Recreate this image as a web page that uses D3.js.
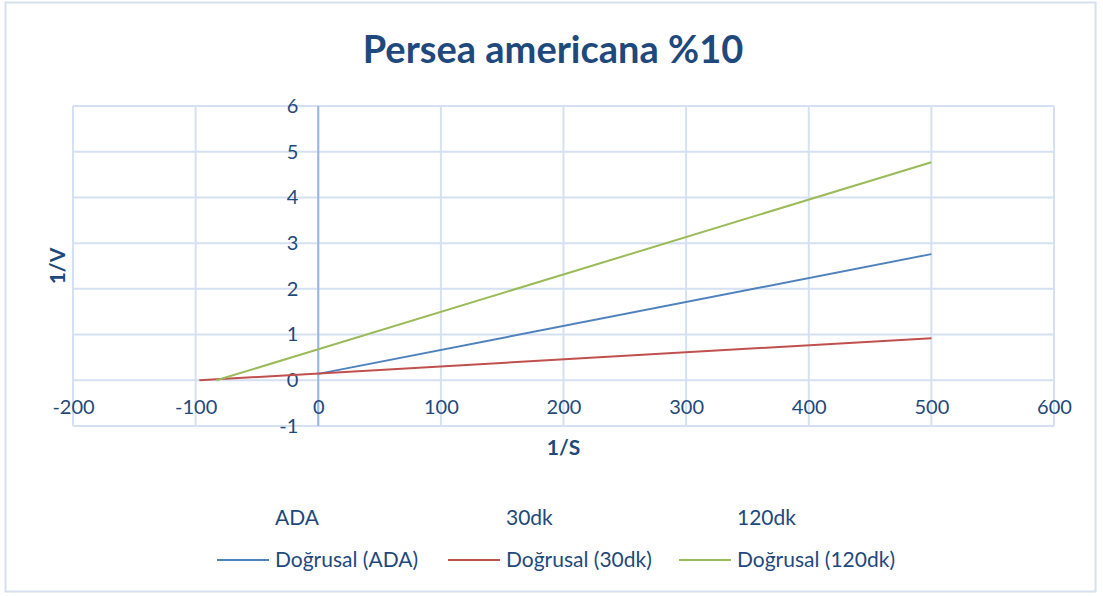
<!DOCTYPE html>
<html>
<head>
<meta charset="utf-8">
<script src="https://cdn.jsdelivr.net/npm/d3@7"></script>
<style>
  body { margin: 0; background: #fff; }
  text { font-family: Lato, "Open Sans", sans-serif; }
</style>
</head>
<body>
<div id="chart-area"></div>
<script>
// Data
var seriesNames = ["ADA", "30dk", "120dk"];
var seriesColors = ["#4f81bd", "#c0504d", "#9bbb59"];
var adaLine = [[0, 0.14], [500, 2.76]];
var dk30Line = [[-97, 0], [500, 0.92]];
var dk120Line = [[-83, 0], [500, 4.77]];
var xTicks = [-200, -100, 0, 100, 200, 300, 400, 500, 600];
var yTicks = [-1, 0, 1, 2, 3, 4, 5, 6];

var trendLines = [adaLine, dk30Line, dk120Line];

var W = 1103, H = 596;
var margin = { left: 73, right: 49, top: 106, bottom: 170 };
var width = W - margin.left - margin.right,
    height = H - margin.top - margin.bottom;

var svg = d3.select("#chart-area").append("svg")
    .attr("width", W)
    .attr("height", H);

// Chart frame
svg.append("rect")
    .attr("x", 5.5).attr("y", 2.5)
    .attr("width", 1090).attr("height", 589)
    .attr("fill", "#fff")
    .attr("stroke", "#d6e0ee")
    .attr("stroke-width", 2);

var g = svg.append("g")
    .attr("transform", "translate(" + margin.left + "," + margin.top + ")");

var x = d3.scaleLinear().domain([-200, 600]).range([0, width]);
var y = d3.scaleLinear().domain([-1, 6]).range([height, 0]);

var gridColor = "#d5e1f2";
var textColor = "#1f497d";
var plainNum = function (d) { return String(d); };

// Grid lines
g.selectAll(".vgrid").data(xTicks).enter().append("line")
    .attr("class", "vgrid")
    .attr("x1", function (d) { return x(d); })
    .attr("x2", function (d) { return x(d); })
    .attr("y1", 0).attr("y2", height)
    .attr("stroke", gridColor).attr("stroke-width", 2);

g.selectAll(".hgrid").data(yTicks).enter().append("line")
    .attr("class", "hgrid")
    .attr("y1", function (d) { return y(d); })
    .attr("y2", function (d) { return y(d); })
    .attr("x1", 0).attr("x2", width)
    .attr("stroke", gridColor).attr("stroke-width", 2);

// Vertical axis at x = 0
g.append("line")
    .attr("x1", x(0)).attr("x2", x(0))
    .attr("y1", 0).attr("y2", height)
    .attr("stroke", "#9ab8de").attr("stroke-width", 2);

// Y tick labels, next to the zero axis
var yAxisCall = d3.axisLeft(y).tickValues(yTicks).tickFormat(plainNum)
    .tickSize(0).tickPadding(20);
var yAxis = g.append("g")
    .attr("transform", "translate(" + x(0) + ",0)")
    .call(yAxisCall);
yAxis.select(".domain").remove();
yAxis.selectAll("text")
    .attr("fill", textColor)
    .style("font-size", "20px")
    .style("font-family", "Lato, sans-serif");

// X tick labels, below the zero line
var xAxisCall = d3.axisBottom(x).tickValues(xTicks).tickFormat(plainNum)
    .tickSize(0).tickPadding(20);
var xAxis = g.append("g")
    .attr("transform", "translate(0," + y(0) + ")")
    .call(xAxisCall);
xAxis.select(".domain").remove();
xAxis.selectAll("text")
    .attr("fill", textColor)
    .style("font-size", "20px")
    .style("font-family", "Lato, sans-serif");

// Trend lines
var line = d3.line()
    .x(function (d) { return x(d[0]); })
    .y(function (d) { return y(d[1]); });

g.selectAll(".trend").data(trendLines).enter().append("path")
    .attr("class", "trend")
    .attr("d", line)
    .attr("fill", "none")
    .attr("stroke", function (d, i) { return seriesColors[i]; })
    .attr("stroke-width", 2);

// Title
svg.append("text")
    .attr("x", 553).attr("y", 63)
    .attr("text-anchor", "middle")
    .attr("fill", textColor)
    .style("font-size", "38px")
    .style("font-weight", "bold")
    .text("Persea americana %10");

// Axis titles
svg.append("text")
    .attr("transform", "translate(65," + (margin.top + height / 2) + ") rotate(-90)")
    .attr("text-anchor", "middle")
    .attr("fill", textColor)
    .style("font-size", "21px")
    .style("font-weight", "bold")
    .text("1/V");

svg.append("text")
    .attr("x", x(200) + margin.left).attr("y", 455)
    .attr("text-anchor", "middle")
    .attr("fill", textColor)
    .style("font-size", "21px")
    .style("font-weight", "bold")
    .text("1/S");

// Legend
var legX = [275, 506, 737];
var legend = svg.append("g");
legend.selectAll(".ser").data(seriesNames).enter().append("text")
    .attr("class", "ser")
    .attr("x", function (d, i) { return legX[i]; })
    .attr("y", 525)
    .attr("fill", textColor)
    .style("font-size", "21px")
    .text(function (d) { return d; });

legend.selectAll(".lsw").data(seriesNames).enter().append("line")
    .attr("class", "lsw")
    .attr("x1", function (d, i) { return legX[i] - 58; })
    .attr("x2", function (d, i) { return legX[i] - 6; })
    .attr("y1", 560).attr("y2", 560)
    .attr("stroke", function (d, i) { return seriesColors[i]; })
    .attr("stroke-width", 2);

legend.selectAll(".trn").data(seriesNames).enter().append("text")
    .attr("class", "trn")
    .attr("x", function (d, i) { return legX[i]; })
    .attr("y", 567)
    .attr("fill", textColor)
    .style("font-size", "21px")
    .text(function (d) { return "Doğrusal (" + d + ")"; });
</script>
</body>
</html>
